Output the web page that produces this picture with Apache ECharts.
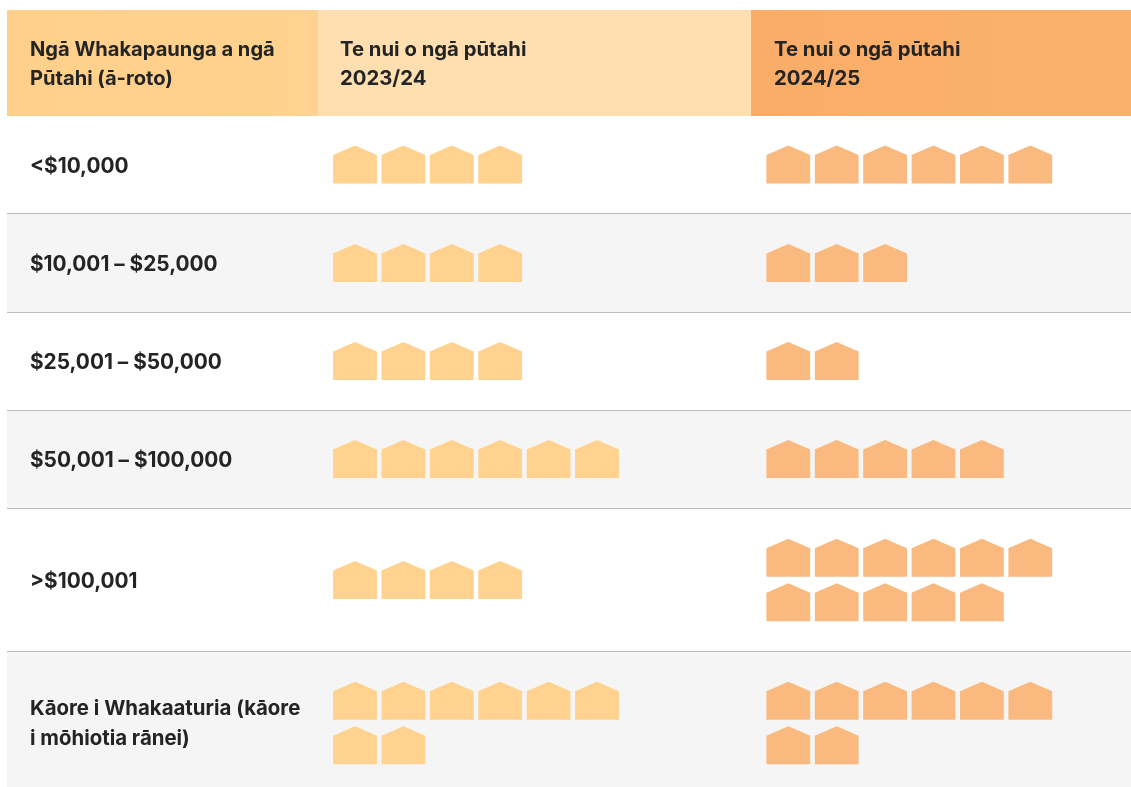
<!DOCTYPE html>
<html><head><meta charset="utf-8">
<style>html,body{margin:0;padding:0;background:#fff}#c{width:1131px;height:787px}</style>
<script src="https://cdn.jsdelivr.net/npm/echarts@6/dist/echarts.min.js"></script>
</head><body><div id="c"></div>
<script>
const categories = ['<$10,000','$10,001 – $25,000','$25,001 – $50,000','$50,001 – $100,000','>$100,001','Kāore i Whakaaturia (kāore\ni mōhiotia rānei)'];
const headers = ['Ngā Whakapaunga a ngā\nPūtahi (ā-roto)','Te nui o ngā pūtahi\n2023/24','Te nui o ngā pūtahi\n2024/25'];
const counts2023 = [4,4,4,6,4,8];
const counts2024 = [6,3,2,5,11,8];

const H = 787, FONT = 'Inter, "Noto Sans", sans-serif', INK = '#222426';
const rowEdges = [116,213.5,312,410,508.5,651.5,787];
const rowCentres = [164.5,263,361,459,580,723];
const PER_LINE = 6, LINE_GAP = 44.3, SLOT = 48.4;
const HOUSE = 'path://M0 9.5L22 0L44 9.5L44 38L0 38Z';

function points(counts){
  const out = [];
  counts.forEach((n,r)=>{
    const lines = Math.ceil(n/PER_LINE);
    for(let i=0;i<n;i++){
      const line = Math.floor(i/PER_LINE);
      out.push([i%PER_LINE+0.5, rowCentres[r]+(line-(lines-1)/2)*LINE_GAP]);
    }
  });
  return out;
}
const graphics = [];
const rect=(x,y,w,h,fill)=>graphics.push({type:'rect',silent:true,z:0,shape:{x,y,width:w,height:h},style:{fill}});
const grad=(a,b)=>({type:'linear',x:0,y:0,x2:1,y2:0,colorStops:[{offset:0,color:a},{offset:1,color:b}]});
rect(7,10,311,106,grad('#FFD08A','#FFD28F'));
rect(318,10,433,106,'#FFDFB0');
rect(751,10,380,106,grad('#F9AD68','#FBB16C'));
rowEdges.slice(0,-1).forEach((y,i)=>{
  if(i%2===1) rect(7,y,1124,rowEdges[i+1]-y,'#F5F5F5');
  if(i>0) rect(7,Math.floor(y),1124,1,'#BBBBBB');
});
const text=(x,y,t,size,lh)=>graphics.push({type:'text',silent:true,z:5,x,y,style:{text:t,fill:INK,font:`700 ${size}px ${FONT}`,lineHeight:lh,verticalAlign:'middle',align:'left'}});
[30,340,774].forEach((x,i)=>text(x,64,headers[i],i===0?20.1:20.3,29));
categories.forEach((c,i)=>text(30,rowCentres[i]+(i===5?1:2),c,i===5?20.4:20.8,30));

const axisOff = {show:false};
const chart = echarts.init(document.getElementById('c'),null,{renderer:'canvas'});
chart.setOption({
  animation:false,
  backgroundColor:'#fff',
  graphic:graphics,
  grid:[
    {left:333-(SLOT-44)/2,top:0,width:SLOT*PER_LINE,height:H},
    {left:766.3-(SLOT-44)/2,top:0,width:SLOT*PER_LINE,height:H}
  ],
  xAxis:[0,1].map(g=>({type:'value',gridIndex:g,min:0,max:PER_LINE,...axisOff})),
  yAxis:[0,1].map(g=>({type:'value',gridIndex:g,min:0,max:H,inverse:true,...axisOff})),
  series:[
    {name:'2023/24',type:'scatter',xAxisIndex:0,yAxisIndex:0,data:points(counts2023),symbol:HOUSE,symbolSize:[43.8,38],itemStyle:{color:'#FFD28F',opacity:1},silent:true},
    {name:'2024/25',type:'scatter',xAxisIndex:1,yAxisIndex:1,data:points(counts2024),symbol:HOUSE,symbolSize:[43.8,38],itemStyle:{color:'#FAB97E',opacity:1},silent:true}
  ]
});
</script></body></html>
